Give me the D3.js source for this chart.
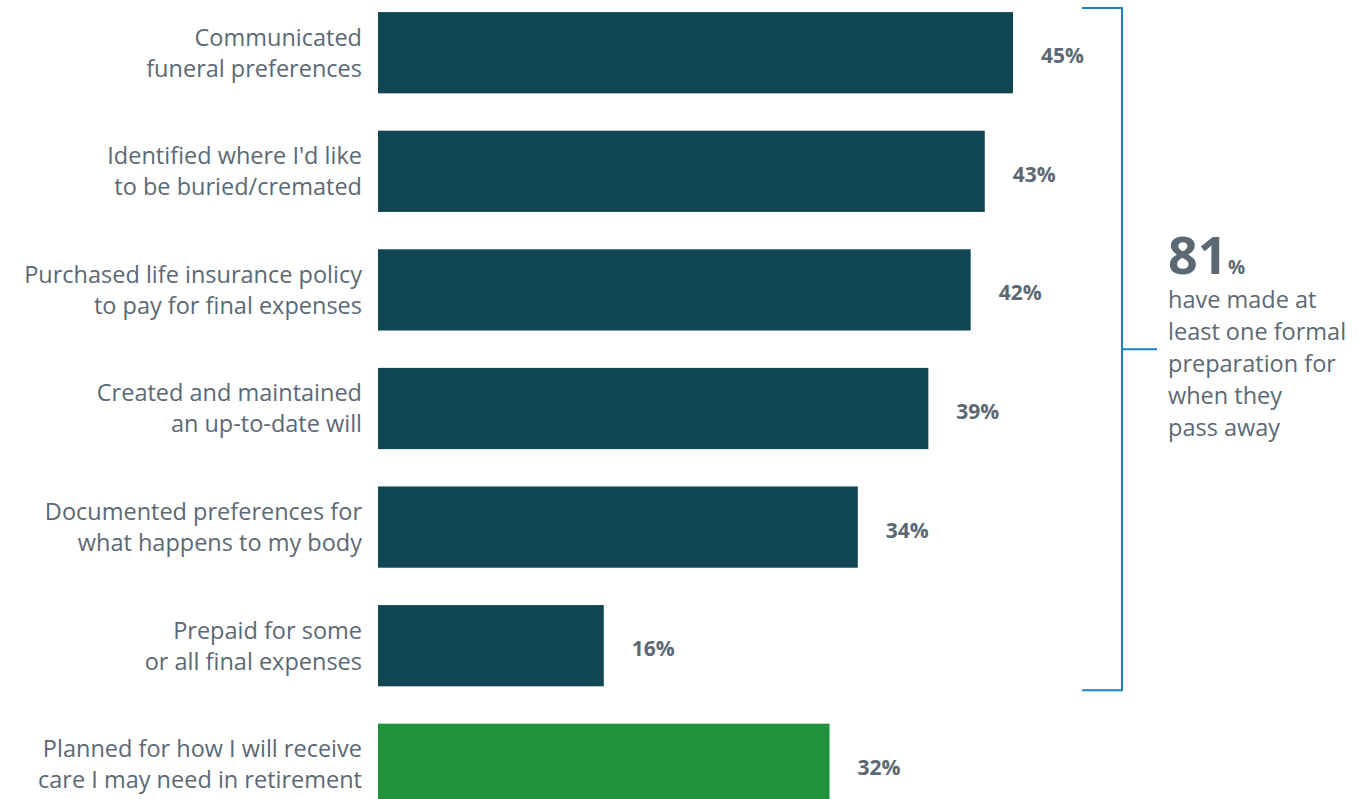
<!DOCTYPE html>
<html>
<head>
<meta charset="utf-8">
<script src="https://cdn.jsdelivr.net/npm/d3@7"></script>
<style>
  html, body { margin: 0; padding: 0; background: #fff; }
  svg { display: block; font-family: "Open Sans", "Noto Sans", sans-serif; }
</style>
</head>
<body>
<svg id="chart" width="1358" height="799"></svg>
<script>
// Survey responses: share of respondents who took each end-of-life preparation step
const categories = [
  ["Communicated", "funeral preferences"],
  ["Identified where I'd like", "to be buried/cremated"],
  ["Purchased life insurance policy", "to pay for final expenses"],
  ["Created and maintained", "an up-to-date will"],
  ["Documented preferences for", "what happens to my body"],
  ["Prepaid for some", "or all final expenses"],
  ["Planned for how I will receive", "care I may need in retirement"]
];
const values = [45, 43, 42, 39, 34, 16, 32];
const groups = ["formal", "formal", "formal", "formal", "formal", "formal", "care"];
const summaryValue = 81;
const summaryLines = ["have made at", "least one formal", "preparation for", "when they", "pass away"];

const svg = d3.select("#chart");
const textColor = "#5c6975";
const colors = { formal: "#0f4651", care: "#22913c" };

const x0 = 378;
const x = d3.scaleLinear().domain([0, 45]).range([x0, 1013]);
const y = d3.scaleBand()
  .domain(d3.range(categories.length))
  .range([-14, 831])
  .paddingInner(0.315)
  .paddingOuter(0.22);

const rows = svg.selectAll("g.row")
  .data(values.map((v, i) => ({ v, i, label: categories[i], group: groups[i] })))
  .join("g")
  .attr("class", "row");

rows.append("rect")
  .attr("x", x0)
  .attr("y", d => y(d.i))
  .attr("width", d => x(d.v) - x0)
  .attr("height", y.bandwidth())
  .attr("fill", d => colors[d.group]);

rows.append("text")
  .attr("x", d => x(d.v) + 28)
  .attr("y", d => y(d.i) + y.bandwidth() / 2 + 3)
  .attr("dy", "0.36em")
  .attr("fill", textColor)
  .attr("font-size", 21)
  .attr("font-weight", 700)
  .text(d => d.v + "%");

const labels = rows.append("text")
  .attr("text-anchor", "end")
  .attr("fill", textColor)
  .attr("font-size", 23.5);
labels.selectAll("tspan")
  .data(d => d.label.map((line, k) => ({ line, k, d })))
  .join("tspan")
  .attr("x", 362)
  .attr("y", t => y(t.d.i) + y.bandwidth() / 2 + (t.k === 0 ? -15.5 : 15.5))
  .attr("dy", "0.36em")
  .text(t => t.line);

// Bracket spanning the formal-preparation rows
const formalIdx = d3.range(values.length).filter(i => groups[i] === "formal");
const bTop = y(formalIdx[0]) - 4;
const bBot = y(formalIdx[formalIdx.length - 1]) + y.bandwidth() + 4;
const bx = 1122;
svg.append("path")
  .attr("d", `M1082,${bTop}H${bx}V${bBot}H1082 M${bx},${(bTop + bBot) / 2}H1157`)
  .attr("fill", "none")
  .attr("stroke", "#1b80c8")
  .attr("stroke-width", 2);

const sx = 1168;
svg.append("text")
  .attr("x", sx)
  .attr("y", 274)
  .attr("fill", textColor)
  .attr("font-weight", 700)
  .attr("font-size", 52)
  .text(summaryValue);
svg.append("text")
  .attr("x", sx + 60)
  .attr("y", 274)
  .attr("fill", textColor)
  .attr("font-weight", 700)
  .attr("font-size", 19)
  .text("%");

svg.append("g").selectAll("text")
  .data(summaryLines)
  .join("text")
  .attr("x", sx)
  .attr("y", (d, i) => 300 + i * 32)
  .attr("dy", "0.36em")
  .attr("fill", textColor)
  .attr("font-size", 23.5)
  .text(d => d);
</script>
</body>
</html>
